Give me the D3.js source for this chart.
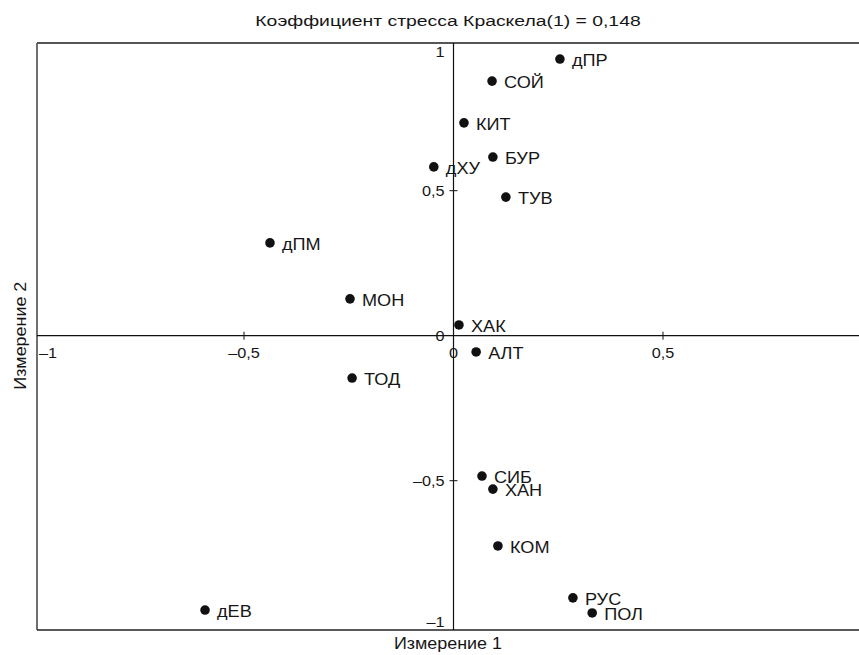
<!DOCTYPE html>
<meta charset="utf-8">
<head>
<script src="https://d3js.org/d3.v7.min.js"></script>
<style>
  body { margin: 0; background: #fff; }
  text { font-family: "Liberation Sans", Arial, sans-serif; fill: #161616; }
</style>
</head>
<body>
<svg id="chart" width="859" height="655"></svg>
<script>
// MDS point labels and coordinates
var labels = ["дПР", "СОЙ", "КИТ", "БУР", "дХУ", "ТУВ", "дПМ", "МОН", "ХАК", "АЛТ", "ТОД", "СИБ", "ХАН", "КОМ", "РУС", "ПОЛ", "дЕВ"];
var dim1 = [0.254, 0.092, 0.025, 0.094, -0.047, 0.125, -0.438, -0.247, 0.013, 0.054, -0.242, 0.068, 0.094, 0.106, 0.285, 0.331, -0.593];
var dim2 = [0.954, 0.878, 0.734, 0.616, 0.582, 0.478, 0.320, 0.127, 0.037, -0.056, -0.146, -0.484, -0.529, -0.725, -0.904, -0.956, -0.946];

var xTicks = [-1, -0.5, 0, 0.5];
var yTicks = [1, 0.5, 0, -0.5, -1];

var titleText = "Коэффициент стресса Краскела(1) = 0,148";
var xTitle = "Измерение 1";
var yTitle = "Измерение 2";

var svg = d3.select("#chart");
var pLeft = 37, pRight = 859, pTop = 43, pBottom = 630;
var sx = 1.12; // the original lettering is wider than Arial

var x = d3.scaleLinear().domain([-1, 1]).range([34.5, 872.5]);
var y = d3.scaleLinear().domain([-1, 1]).range([625.7, 45.7]);

var fmt = function(d) { return d3.format(",")(d).replace(".", ",").replace("−", "–").replace("-", "–"); };

function label(g, tx, ty, txt, size, anchor, k) {
  return g.append("text")
    .attr("transform", "translate(" + tx + "," + ty + ") scale(" + (k || sx) + ",1)")
    .attr("text-anchor", anchor || "start")
    .attr("font-size", size)
    .text(txt);
}

// frame
svg.append("line").attr("x1", pLeft).attr("x2", pLeft).attr("y1", pTop).attr("y2", pBottom)
  .attr("stroke", "#222").attr("stroke-width", 1.3);
svg.append("line").attr("x1", pLeft).attr("x2", pRight).attr("y1", pTop).attr("y2", pTop)
  .attr("stroke", "#555").attr("stroke-width", 2);
svg.append("line").attr("x1", pLeft).attr("x2", pRight).attr("y1", pBottom).attr("y2", pBottom)
  .attr("stroke", "#222").attr("stroke-width", 1.3);

// axes through origin
svg.append("line").attr("x1", pLeft).attr("x2", pRight).attr("y1", y(0)).attr("y2", y(0))
  .attr("stroke", "#111").attr("stroke-width", 1.2);
svg.append("line").attr("x1", x(0)).attr("x2", x(0)).attr("y1", pTop).attr("y2", pBottom)
  .attr("stroke", "#111").attr("stroke-width", 1.2);

// x ticks
var xt = svg.append("g");
xt.selectAll("line").data(xTicks.filter(function(d) { return d !== 0 && d !== -1; })).enter().append("line")
  .attr("x1", function(d) { return x(d); }).attr("x2", function(d) { return x(d); })
  .attr("y1", y(0) - 4).attr("y2", y(0) + 4).attr("stroke", "#111");
xTicks.forEach(function(d) {
  if (d === -1) label(xt, pLeft + 2, y(0) + 22, fmt(d), 14.5, "start");
  else label(xt, x(d), y(0) + 22, fmt(d), 14.5, "middle");
});

// y ticks
var yt = svg.append("g");
yt.selectAll("line").data(yTicks.filter(function(d) { return Math.abs(d) === 0.5; })).enter().append("line")
  .attr("x1", x(0) - 4).attr("x2", x(0) + 4)
  .attr("y1", function(d) { return y(d); }).attr("y2", function(d) { return y(d); })
  .attr("stroke", "#111");
yTicks.forEach(function(d) {
  var dy = d === 1 ? 11 : (d === -1 ? 1.5 : 5);
  label(yt, x(0) - 9, y(d) + dy, fmt(d), 14.5, "end");
});

// points
var pts = svg.append("g");
labels.forEach(function(d, i) {
  pts.append("circle")
    .attr("cx", x(dim1[i]))
    .attr("cy", y(dim2[i]))
    .attr("r", 4.8).attr("fill", "#111");
  label(pts, x(dim1[i]) + 12, y(dim2[i]) + 7, d, 16.2, "start");
});

// titles
label(svg, (pLeft + pRight) / 2, 25.7, titleText, 15.5, "middle", 1.25);
label(svg, (pLeft + pRight) / 2, 649, xTitle, 16, "middle");
svg.append("text").attr("transform", "translate(26," + y(0) + ") rotate(-90) scale(" + sx + ",1)")
  .attr("text-anchor", "middle").attr("font-size", 16).text(yTitle);
</script>
</body>
